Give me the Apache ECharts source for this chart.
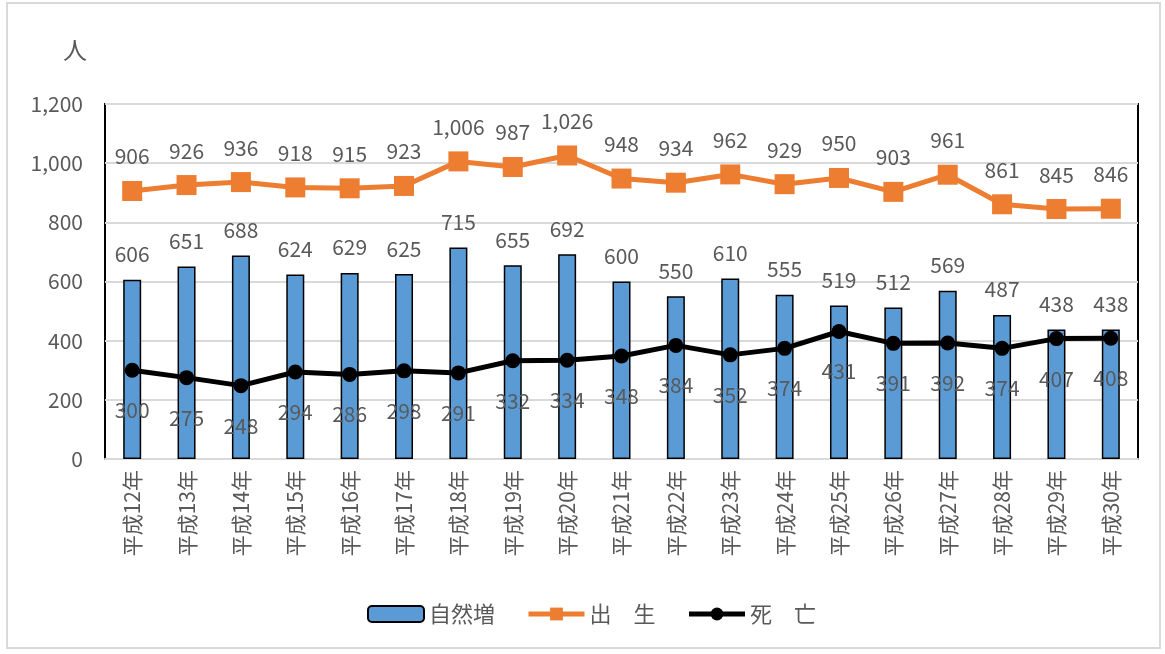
<!DOCTYPE html>
<html><head><meta charset="utf-8">
<script src="https://cdn.jsdelivr.net/npm/echarts@6/dist/echarts.min.js"></script>
<style>html,body{margin:0;padding:0;background:#fff;}#c{width:1165px;height:654px;}</style>
</head><body><div id="c"></div>
<script>
const categories = ["平成12年","平成13年","平成14年","平成15年","平成16年","平成17年","平成18年","平成19年","平成20年","平成21年","平成22年","平成23年","平成24年","平成25年","平成26年","平成27年","平成28年","平成29年","平成30年"];
const naturalIncrease = [606,651,688,624,629,625,715,655,692,600,550,610,555,519,512,569,487,438,438];
const births = [906,926,936,918,915,923,1006,987,1026,948,934,962,929,950,903,961,861,845,846];
const deaths = [300,275,248,294,286,298,291,332,334,348,384,352,374,431,391,392,374,407,408];
const seriesNames = ["自然増","出　生","死　亡"];
const unitLabel = "人";

const FONT = '"Noto Sans CJK JP", "Noto Sans", sans-serif';
const GRAY = '#595959';
const fmt = v => String(v).replace(/\B(?=(\d{3})+(?!\d))/g, ',');
const lblFmt = p => fmt(p.value);

const chart = echarts.init(document.getElementById('c'));
chart.setOption({
  animation: false,
  textStyle: {fontFamily: FONT},
  graphic: [
    {type:'rect', shape:{x:7,y:3,width:1153,height:645}, style:{fill:'none', stroke:'#d9d9d9', lineWidth:2}, z:-10},
    {type:'text', left:63, top:38, style:{text:unitLabel, fontSize:24, fill:GRAY, fontFamily:FONT}}
  ],
  grid: {left:105, right:27, top:104, bottom:195, show:true, borderColor:'#000', borderWidth:2, backgroundColor:'transparent'},
  legend: {
    left: 362, top: 598, itemWidth: 56, itemHeight: 16, itemGap: 31,
    textStyle: {fontSize:22, color:GRAY, fontFamily:FONT},
    data: [
      {name: seriesNames[0]},
      {name: seriesNames[1], lineStyle:{width:5}},
      {name: seriesNames[2], lineStyle:{width:5}}
    ]
  },
  xAxis: {
    type:'category', data: categories,
    axisLine:{lineStyle:{color:'#d9d9d9', width:2}},
    axisTick:{show:false},
    axisLabel:{rotate:90, fontSize:21, color:GRAY, margin:11, fontFamily:FONT}
  },
  yAxis: {
    type:'value', min:0, max:1200, interval:200,
    axisLine:{show:false}, axisTick:{show:false},
    axisLabel:{fontSize:21, color:GRAY, margin:22, formatter: fmt, fontFamily:FONT},
    splitLine:{lineStyle:{color:'#d9d9d9', width:2}}
  },
  series: [
    {
      name: seriesNames[0], type:'bar', data: naturalIncrease, barWidth:18,
      itemStyle:{color:'#5B9BD5', borderColor:'#000', borderWidth:1.5},
      label:{show:true, position:'top', distance:15, fontSize:21, color:GRAY, fontFamily:FONT, formatter: lblFmt},
      z:2
    },
    {
      name: seriesNames[1], type:'line', data: births,
      symbol:'rect', symbolSize:20,
      lineStyle:{color:'#ED7D31', width:5},
      itemStyle:{color:'#ED7D31'},
      label:{show:true, position:'top', distance:14, fontSize:21, color:GRAY, fontFamily:FONT, formatter: lblFmt},
      z:3
    },
    {
      name: seriesNames[2], type:'line', data: deaths,
      symbol:'circle', symbolSize:15,
      lineStyle:{color:'#000', width:5},
      itemStyle:{color:'#000'},
      label:{show:true, position:'bottom', distance:22, fontSize:21, color:GRAY, fontFamily:FONT, formatter: lblFmt},
      z:4
    }
  ]
});
</script></body></html>
